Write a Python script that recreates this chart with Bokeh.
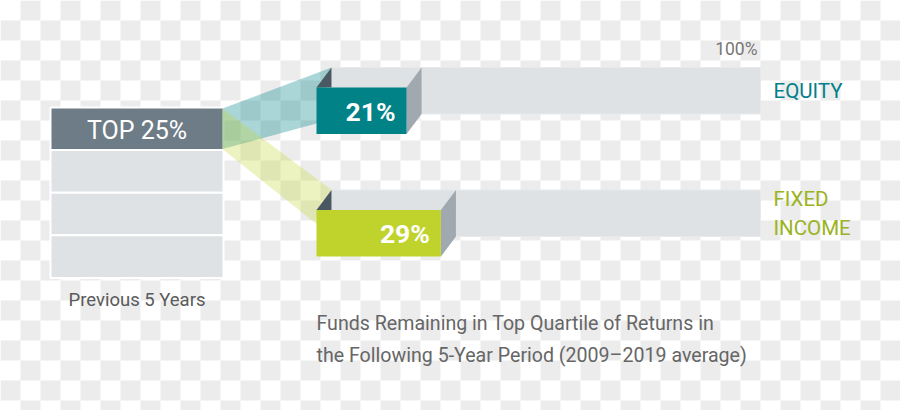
import numpy as np
from bokeh.plotting import figure
from bokeh.models import Range1d
from bokeh.core.properties import value
from bokeh.embed import file_html
from bokeh.resources import INLINE

# ---------------- data ----------------
categories = ["EQUITY", "FIXED\nINCOME"]
remaining_pct = [21, 29]
full_pct = [100, 100]
quartile_labels = ["TOP 25%", "", "", ""]
box_colors = ["#008287", "#c0d32d"]
category_colors = ["#00808a", "#9ab31e"]
scale_label = "100%"
left_caption = "Previous 5 Years"
bottom_caption = ["Funds Remaining in Top Quartile of Returns in",
                  "the Following 5-Year Period (2009\u20132019 average)"]

# ---------------- layout (pixels) ----------------
W, H = 900, 410
ORIGIN_PX = 316.0          # pixel x of 0 %
PX_PER_PCT = 4.29          # pixels per percentage point


def X(px):
    return (np.asarray(px, dtype=float) - ORIGIN_PX) / PX_PER_PCT


def BL(y, size):
    """Baseline correction for Bokeh's text placement."""
    return y - 0.42 * size


DX = 15 / PX_PER_PCT       # 3D depth (data units)
DY = 20                    # 3D depth (pixels, y)
ROW_TOP = [87.0, 209.5]
BOX_H = 46.5
BAND_LOW = [36.0, 14.0]    # where the band's lower edge meets the box
COL_L, COL_R = 50.0, 223.0
COL_TOP, COL_PITCH = 107.0, 42.6
FONT = "Roboto"

p = figure(width=W, height=H, x_range=Range1d(float(X(0)), float(X(W))),
           y_range=Range1d(H, 0), output_backend="svg", toolbar_location=None,
           min_border=0, x_axis_type=None, y_axis_type=None)
p.outline_line_color = None
p.background_fill_color = "white"
p.border_fill_color = "white"
p.xgrid.visible = False
p.ygrid.visible = False

# checkerboard backdrop
ci, rj = np.meshgrid(np.arange(W // 20 + 1), np.arange(H // 20 + 1))
m = (ci + rj) % 2 == 1
p.rect(x=X(ci[m] * 20 + 10).tolist(), y=(rj[m] * 20 + 10.0).tolist(),
       width=20 / PX_PER_PCT, height=20, fill_color="#ececec",
       line_color=None)

# left stacked column (quartiles)
n = len(quartile_labels)
tops = (COL_TOP + np.arange(n) * COL_PITCH).tolist()
bots = [t + COL_PITCH for t in tops]
col_colors = ["#6d7c86" if lab else "#dfe2e5" for lab in quartile_labels]
p.quad(left=[float(X(COL_L))] * n, right=[float(X(COL_R))] * n, top=tops,
       bottom=bots, fill_color=col_colors, line_color="white", line_width=2)
p.text(x=[float(X((COL_L + COL_R) / 2))], y=[BL(COL_TOP + 33, 25)],
       text=[quartile_labels[0]], text_color="white", text_align="center",
       text_baseline="alphabetic", text_font=value(FONT),
       text_font_size="25px")
p.text(x=[float(X((COL_L + COL_R) / 2))], y=[BL(307, 18.5)], text=[left_caption],
       text_color="#5a5a5a", text_align="center", text_baseline="alphabetic",
       text_font=value(FONT), text_font_size="18.5px")

# translucent connecting bands (drawn teal first, then green)
for i, v in enumerate(remaining_pct):
    t = ROW_TOP[i]
    xs = [float(X(COL_R - 1)), DX, 0.0, float(X(COL_R - 1))]
    ys = [COL_TOP + 1, t - DY, t + BAND_LOW[i], COL_TOP + COL_PITCH - 1]
    p.patch(xs, ys, fill_color=box_colors[i], fill_alpha=0.33 if i == 0 else 0.3,
            line_color=None)

# 3D boxes
for i, (v, full) in enumerate(zip(remaining_pct, full_pct)):
    t = ROW_TOP[i]
    b = t + BOX_H
    # back 100% bar
    p.quad(left=[DX], right=[full + DX], top=[t - DY], bottom=[b - DY],
           fill_color="#dfe2e5", line_color="#e7e9eb", line_width=1)
    # inner left wall
    p.patch([0, DX, DX], [t, t - DY, t], fill_color="#4a5864", line_color=None)
    # right side face
    p.patch([v, v + DX, v + DX, v], [t, t - DY, b - DY, b],
            fill_color="#a0a8b0", line_color=None)
    # front face
    p.quad(left=[0], right=[v], top=[t], bottom=[b], fill_color=box_colors[i],
           line_color=None)
    # value label
    p.text(x=[v - 11 / PX_PER_PCT], y=[BL(b - 10, 30)], text=[f"{v}%"],
           text_color="white", text_align="right", text_baseline="alphabetic",
           text_font=value(FONT), text_font_style="bold",
           text_font_size="26.5px")
    # category label (possibly multi-line)
    lines = categories[i].split("\n")
    y0 = t + 13 if len(lines) == 1 else t - 2
    for k, line in enumerate(lines):
        p.text(x=[float(X(773))], y=[BL(y0 + k * 29, 22.5)], text=[line],
               text_color=category_colors[i], text_align="left",
               text_baseline="alphabetic", text_font=value(FONT),
               text_font_size="20.5px")

# 100% scale label
p.text(x=[full_pct[0] + DX - 3 / PX_PER_PCT], y=[BL(ROW_TOP[0] - DY - 11, 19)],
       text=[scale_label], text_color="#777777", text_align="right",
       text_baseline="alphabetic", text_font=value(FONT),
       text_font_size="17.5px")

# bottom caption
for k, line in enumerate(bottom_caption):
    p.text(x=[0.0], y=[BL(331 + k * 32, 19.6)], text=[line], text_color="#666666",
           text_align="left", text_baseline="alphabetic",
           text_font=value(FONT), text_font_size="19.6px")

open("out.html", "w").write(file_html(p, INLINE))
